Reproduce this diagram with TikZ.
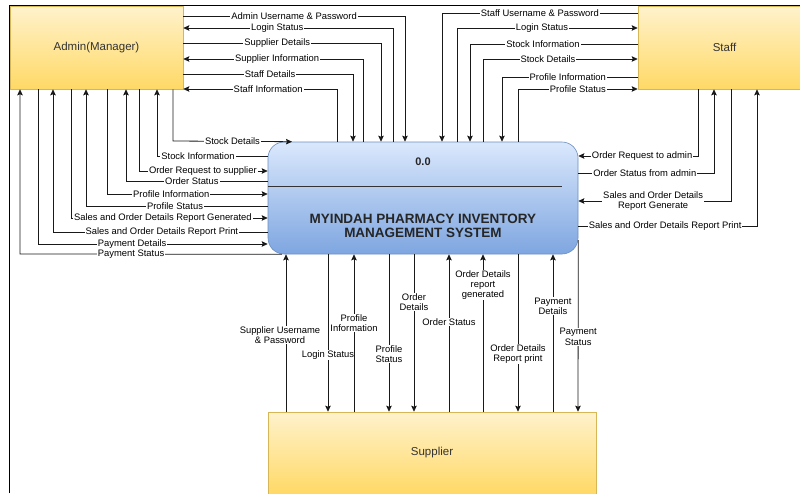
\documentclass[tikz,border=0pt]{standalone}
\usepackage{fontspec}
\setmainfont{Liberation Sans}
\usetikzlibrary{arrows.meta}
\definecolor{yelTop}{HTML}{FFF2CC}
\definecolor{yelBot}{HTML}{FFD966}
\definecolor{yelLine}{HTML}{D6B656}
\definecolor{bluTop}{HTML}{DAE8FC}
\definecolor{bluBot}{HTML}{7EA6E0}
\definecolor{bluLine}{HTML}{6C8EBF}
\begin{document}
\begin{tikzpicture}[x=1pt,y=-1pt,
  ext/.style={draw=yelLine, line width=0.6pt, top color=yelTop, bottom color=yelBot,
    text=black!80, font=\fontsize{11.5}{13}\selectfont, inner sep=0pt},
  proc/.style={draw=bluLine, line width=0.6pt, top color=bluTop, bottom color=bluBot,
    rounded corners=16pt, inner sep=0pt},
  flow/.style={draw=black!90, line width=0.8pt, -{Stealth[length=6pt,width=5.5pt,inset=1pt]}},
  lbl/.style={fill=white, inner xsep=1pt, inner ysep=0.4pt, font=\fontsize{9.4}{10.2}\selectfont,
    text=black, align=center}
]
\useasboundingbox (0,0) rectangle (800,493);

% ---- boxes ----
\node[ext, minimum width=173pt, minimum height=83pt] (A) at (96.5,47.5) {Admin(Manager)};
\node[ext, minimum width=173pt, minimum height=83pt] (S) at (724.5,47.5) {Staff};
\node[ext, minimum width=328pt, minimum height=82pt] (U) at (432,453) {Supplier};
\node[proc, minimum width=310pt, minimum height=112pt] (P) at (423,198) {};
\node[font=\bfseries\fontsize{11}{12}\selectfont, text=black!85] (pid) at (423,162) {0.0};
\node[font=\bfseries\fontsize{13.5}{13.4}\selectfont, text=black!85, align=center] (ptitle) at (423,226)
  {MYINDAH PHARMACY INVENTORY\\MANAGEMENT SYSTEM};
\draw[black!80, line width=0.7pt] (P.west|-0,186) -- (562,186);

% ---- Admin <-> process (top) ----
\draw[flow] (A.east|-0,16) -- node[lbl,pos=0.5]{Admin Username \& Password} (405,16) -- (P.north-|405,0);
\draw[flow] (P.north-|393,0) -- (393,28) -- node[lbl,pos=0.552]{Login Status} (A.east|-0,28);
\draw[flow] (A.east|-0,43) -- node[lbl,pos=0.475]{Supplier Details} (381,43) -- (P.north-|381,0);
\draw[flow] (P.north-|363,0) -- (363,59) -- node[lbl,pos=0.478]{Supplier Information} (A.east|-0,59);
\draw[flow] (A.east|-0,74) -- node[lbl,pos=0.512]{Staff Details} (353,74) -- (P.north-|353,0);
\draw[flow] (P.north-|337,0) -- (337,89) -- node[lbl,pos=0.448]{Staff Information} (A.east|-0,89);

% ---- Staff <-> process (top) ----
\draw[flow] (S.west|-0,13) -- node[lbl,pos=0.5]{Staff Username \& Password} (442,13) -- (P.north-|442,0);
\draw[flow] (P.north-|457,0) -- (457,28) -- node[lbl,pos=0.47]{Login Status} (S.west|-0,28);
\draw[flow] (S.west|-0,44) -- node[lbl,pos=0.565]{Stock Information} (470,44) -- (P.north-|470,0);
\draw[flow] (P.north-|483,0) -- (483,59) -- node[lbl,pos=0.42]{Stock Details} (S.west|-0,59);
\draw[flow] (S.west|-0,77) -- node[lbl,pos=0.515]{Profile Information} (502,77) -- (P.north-|502,0);
\draw[flow] (P.north-|518,0) -- (518,89) -- node[lbl,pos=0.5]{Profile Status} (S.west|-0,89);

% ---- Admin <-> process (left) ----
\draw[flow] (A.south-|173,0) -- (173,141) -- node[lbl,pos=0.5]{Stock Details} (P.north-|292,0);
\draw[flow] (P.west|-0,156) -- node[lbl,pos=0.63]{Stock Information} (157,156) -- (A.south-|157,0);
\draw[flow] (A.south-|139,0) -- (139,171) -- node[lbl,pos=0.496]{Order Request to supplier} (P.west|-0,171);
\draw[flow] (P.west|-0,181) -- node[lbl,pos=0.535]{Order Status} (126,181) -- (A.south-|126,0);
\draw[flow] (A.south-|107,0) -- (107,194) -- node[lbl,pos=0.4]{Profile Information} (P.west|-0,194);
\draw[flow] (P.west|-0,206) -- node[lbl,pos=0.51]{Profile Status} (86,206) -- (A.south-|86,0);
\draw[flow] (A.south-|71,0) -- (71,218) -- node[lbl,pos=0.467]{Sales and Order Details Report Generated} (P.west|-0,218);
\draw[flow] (P.west|-0,232) -- node[lbl,pos=0.493]{Sales and Order Details Report Print} (53,232) -- (A.south-|53,0);
\draw[flow] (A.south-|38,0) -- (38,244) -- node[lbl,pos=0.41]{Payment Details} (P.west|-0,244);
\draw[flow] (P.south-|282,0) -- node[lbl,pos=0.576]{Payment Status} (20,254) -- (A.south-|20,0);

% ---- Staff <-> process (right) ----
\draw[flow] (S.south-|698,0) -- (698,156) -- node[lbl,pos=0.467]{Order Request to admin} (P.east|-0,156);
\draw[flow] (P.east|-0,173) -- node[lbl,pos=0.49]{Order Status from admin} (714,173) -- (S.south-|714,0);
\draw[flow] (S.south-|731,0) -- (731,201) -- node[lbl,pos=0.51]{Sales and Order Details\\Report Generate} (P.east|-0,201);
\draw[flow] (P.east|-0,226) -- node[lbl,pos=0.486]{Sales and Order Details Report Print} (757,226) -- (S.south-|757,0);

% ---- Supplier <-> process (bottom) ----
\draw[flow] (U.north-|286,0) -- node[lbl,pos=0.487,xshift=-6pt]{Supplier Username\\\& Password} (P.south-|286,0);
\draw[flow] (P.south-|328,0) -- node[lbl,pos=0.64]{Login Status} (U.north-|328,0);
\draw[flow] (U.north-|354,0) -- node[lbl,pos=0.563]{Profile\\Information} (P.south-|354,0);
\draw[flow] (P.south-|389,0) -- node[lbl,pos=0.633]{Profile\\Status} (U.north-|389,0);
\draw[flow] (P.south-|414,0) -- node[lbl,pos=0.304]{Order\\Details} (U.north-|414,0);
\draw[flow] (U.north-|449,0) -- node[lbl,pos=0.57]{Order Status} (P.south-|449,0);
\draw[flow] (U.north-|483,0) -- node[lbl,pos=0.804]{Order Details\\report\\generated} (P.south-|483,0);
\draw[flow] (P.south-|518,0) -- node[lbl,pos=0.633]{Order Details\\Report print} (U.north-|518,0);
\draw[flow] (U.north-|553,0) -- node[lbl,pos=0.67]{Payment\\Details} (P.south-|553,0);
\draw[flow] (P.east|-0,240) -- node[lbl,pos=0.564]{Payment\\Status} (U.north-|578,0);

% ---- frame ----
\draw[line width=1.2pt, black] (9.6,493) -- (9.6,5.2) -- (800,5.2);
\end{tikzpicture}
\end{document}
